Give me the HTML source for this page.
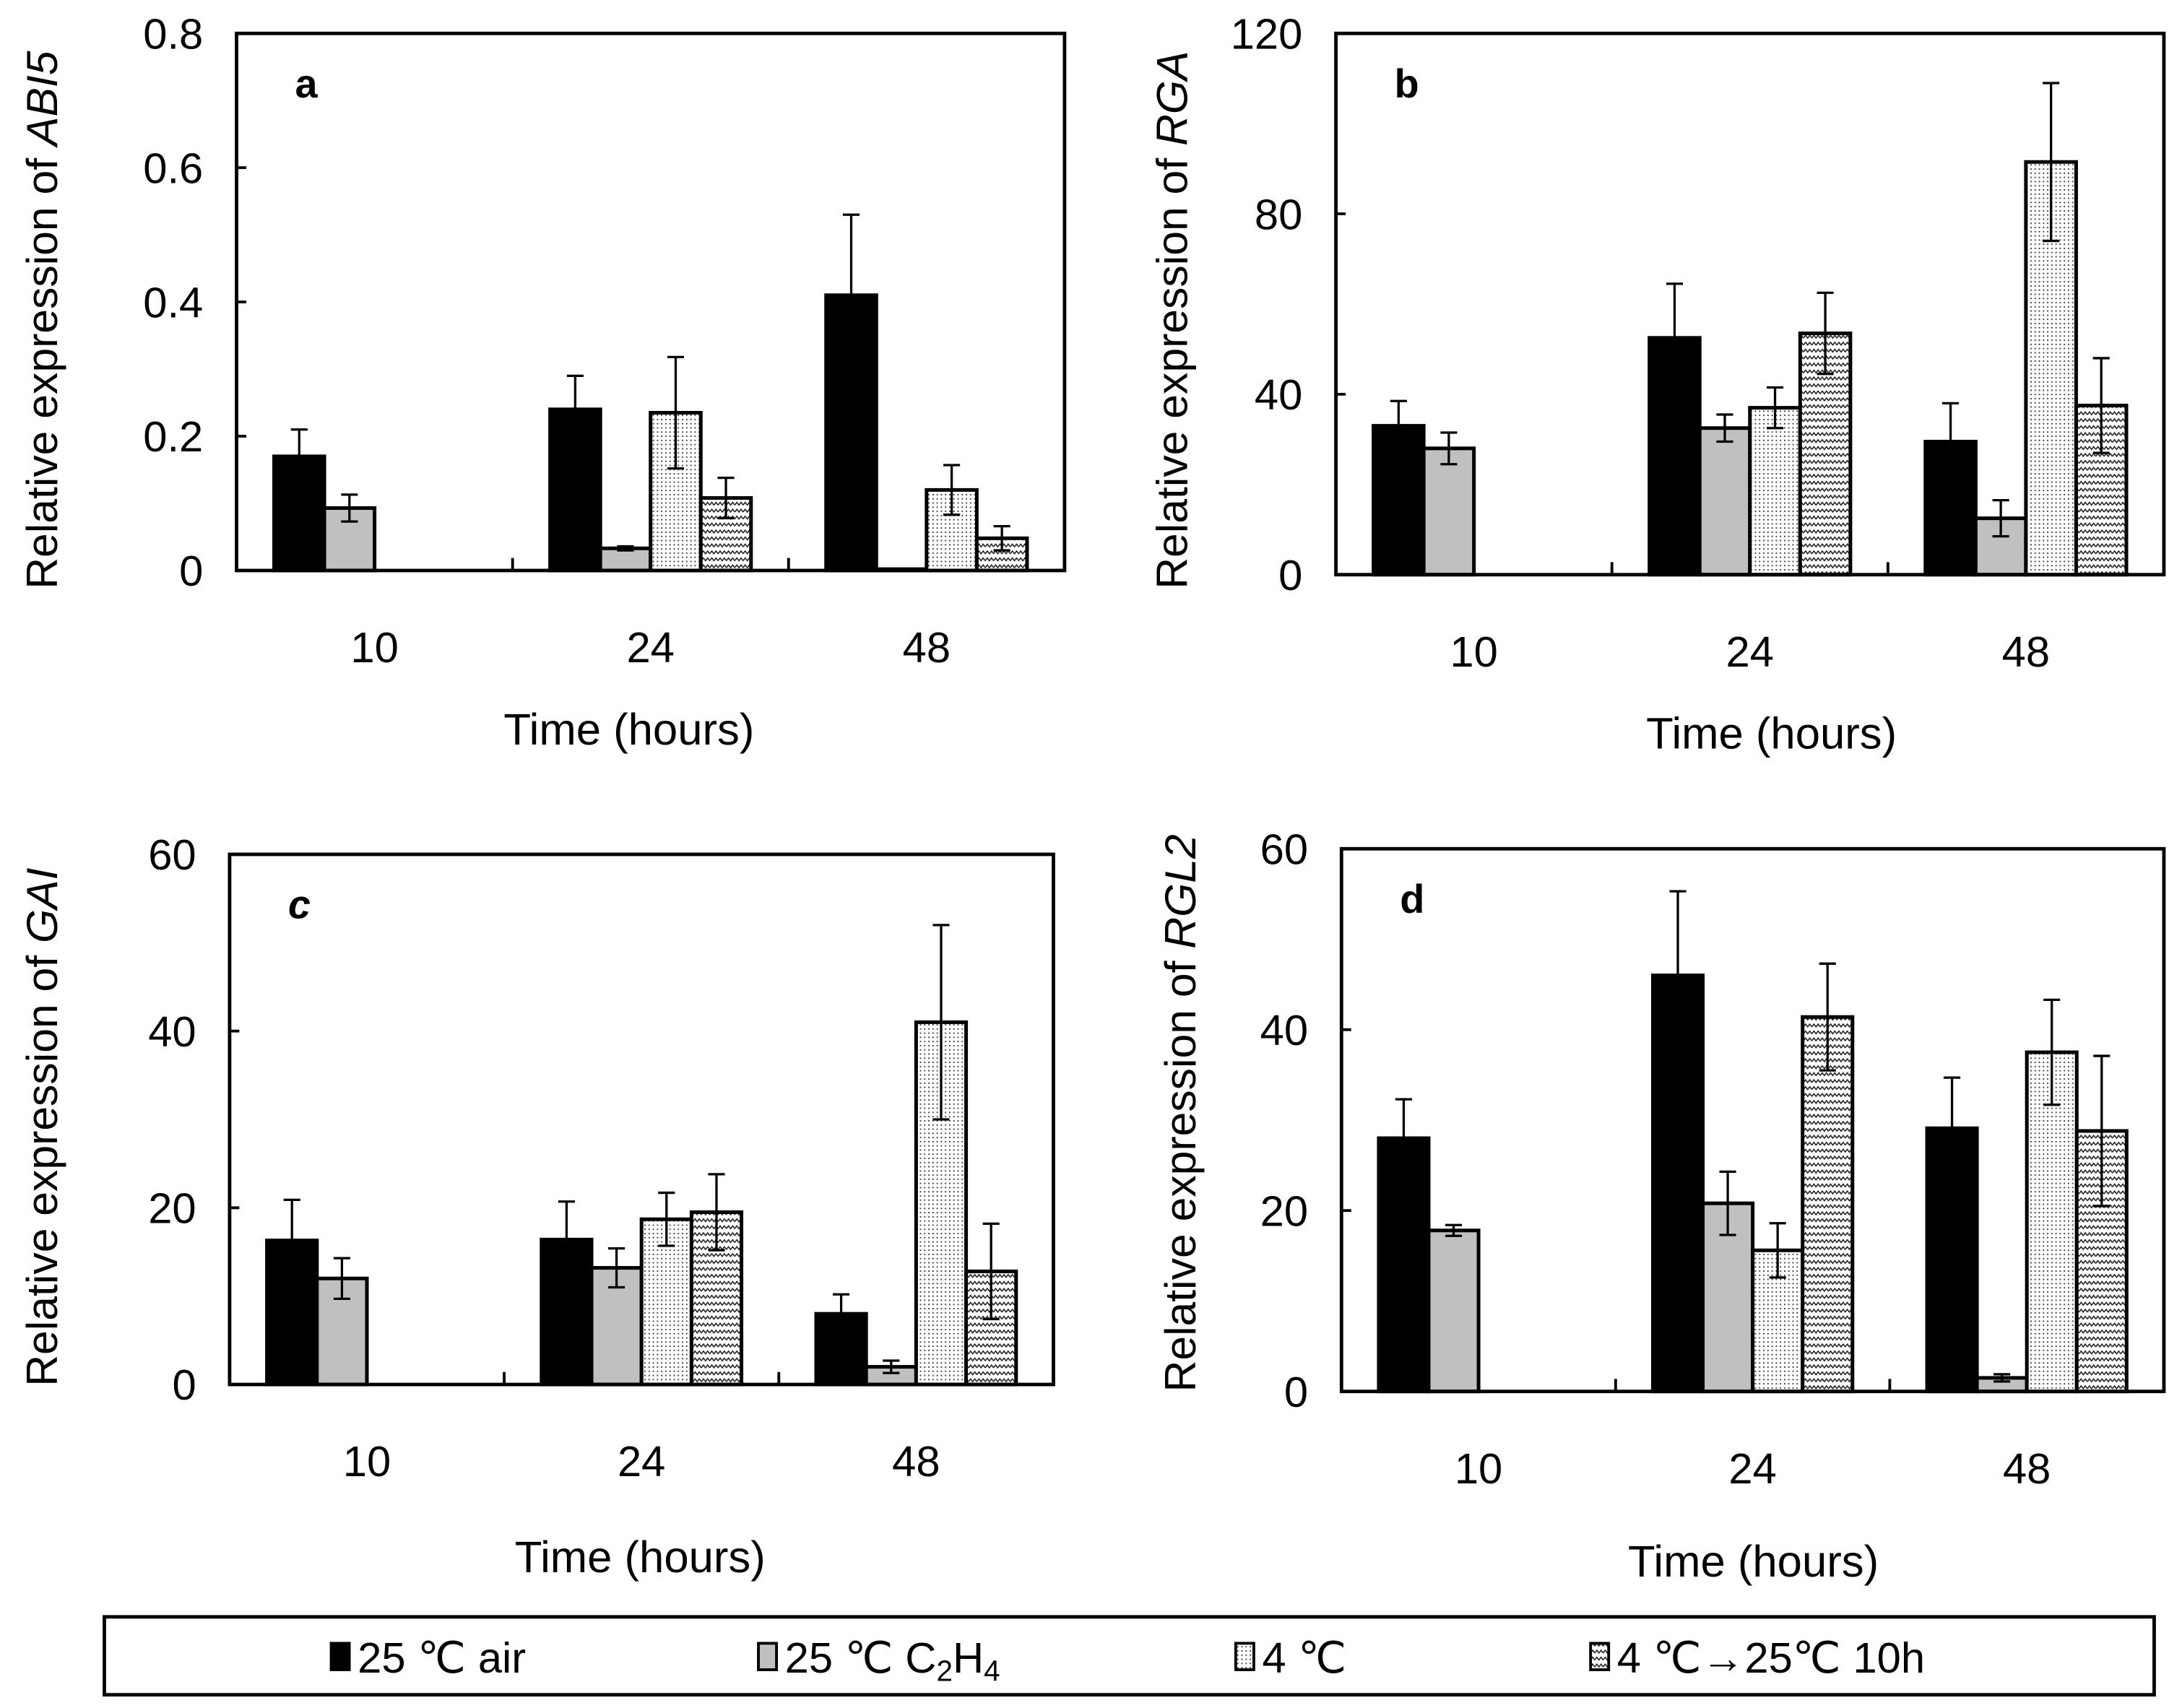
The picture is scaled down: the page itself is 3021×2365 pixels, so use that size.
<!DOCTYPE html>
<html><head><meta charset="utf-8"><style>html,body{margin:0;padding:0;background:#fff}svg{display:block}text{font-family:"Liberation Sans",Arial,sans-serif;fill:#000}</style></head>
<body>
<svg id="fig" width="3021" height="2365" viewBox="0 0 1568 1227.5" xmlns="http://www.w3.org/2000/svg">
<defs>
<pattern id="dots" width="3" height="3" patternUnits="userSpaceOnUse"><rect width="3" height="3" fill="#fff"/><rect x="1" y="1" width="1" height="1" fill="#444"/></pattern>
<pattern id="wave" width="6" height="5" patternUnits="userSpaceOnUse"><rect width="6" height="5" fill="#fff"/><path d="M0,3 L1.5,1 L3,3 L4.5,1 L6,3" stroke="#222" stroke-width="0.8" fill="none"/></pattern>
</defs>
<g id="root"></g>
</svg>
<script>
const categories = ["10","24","48"];
const seriesNames = ["25 ℃ air","25 ℃ C2H4","4 ℃","4 ℃→25℃ 10h"];
const abi5Vals = [[0.17,0.24,0.41],[0.093,0.033,0.002],[null,0.235,0.12],[null,0.108,0.048]];
const abi5Err  = [[0.04,0.05,0.12],[0.02,0.003,0],[null,0.083,0.037],[null,0.03,0.018]];
const rgaVals = [[33,52.5,29.5],[28,32.5,12.5],[null,37,91.5],[null,53.5,37.5]];
const rgaErr  = [[5.5,12,8.5],[3.5,3,4],[null,4.5,17.5],[null,9,10.5]];
const gaiVals = [[16.3,16.4,8],[12,13.2,2],[null,18.7,41],[null,19.5,12.8]];
const gaiErr  = [[4.6,4.3,2.2],[2.3,2.2,0.7],[null,3,11],[null,4.3,5.4]];
const rgl2Vals = [[28,46,29.1],[17.8,20.8,1.5],[null,15.6,37.5],[null,41.4,28.8]];
const rgl2Err  = [[4.3,9.3,5.6],[0.6,3.5,0.4],[null,3,5.8],[null,5.9,8.3]];
const abi5Ticks = [0,0.2,0.4,0.6,0.8];
const rgaTicks = [0,40,80,120];
const gaiTicks = [0,20,40,60];
const rgl2Ticks = [0,20,40,60];

const NS="http://www.w3.org/2000/svg";
const root=document.getElementById('root');
function mk(tag,attrs,parent){const e=document.createElementNS(NS,tag);for(const k in attrs)e.setAttribute(k,attrs[k]);(parent||root).appendChild(e);return e;}
const fills=["#000","#c0c0c0","url(#dots)","url(#wave)"];

function panel(o){
  const g=mk('g',{});
  
  
  const max=o.ticks[o.ticks.length-1];
  const y=v=>o.y0-(v/max)*(o.y0-o.top);
  const cw=(o.right-o.left)/categories.length;
  const bw=cw*0.182;
  for(let s=0;s<4;s++){
    for(let c=0;c<categories.length;c++){
      const v=o.vals[s][c]; if(v===null) continue;
      const cx=o.left+cw*(c+0.5);
      const x=cx-2*bw+s*bw;
      const yt=y(v);
      const r=mk('rect',{x:x,y:yt,width:bw,height:o.y0-yt,fill:fills[s],stroke:'#000','stroke-width':2.6},g);
      
      
      const e=o.err[s][c];
      if(e){const ex=x+bw/2;const y1=y(v+e),y2=y(Math.max(0,v-e));
        const eb=mk('path',{d:`M${ex},${y1}V${y2}M${ex-6},${y1}H${ex+6}M${ex-6},${y2}H${ex+6}`,stroke:'#000','stroke-width':1.7,fill:'none'},g);
        
        
      }
    }
  }
  const bx=mk('rect',{x:o.left,y:o.top,width:o.right-o.left,height:o.y0-o.top,fill:'none',stroke:'#000','stroke-width':2.5},g);
  
  
  o.ticks.forEach(t=>{const yy=y(t);
    mk('line',{x1:o.left,x2:o.left+7,y1:yy,y2:yy,stroke:'#000','stroke-width':2},g);
    const tl=mk('text',{x:o.left-24,y:yy+11,'text-anchor':'end','font-size':31},g);tl.textContent=t;
    
    
  });
  for(let c=1;c<categories.length;c++){const xx=o.left+cw*c;mk('line',{x1:xx,x2:xx,y1:o.y0,y2:o.y0-9,stroke:'#000','stroke-width':2},g);}
  categories.forEach((cat,c)=>{const t=mk('text',{x:o.left+cw*(c+0.5),y:o.y0+66,'text-anchor':'middle','font-size':31},g);t.textContent=cat;
    
    });
  const xt=mk('text',{x:o.xtx,y:o.xty,'text-anchor':'middle','font-size':32},g);xt.textContent='Time (hours)';
  
  
  const yt=mk('text',{transform:`translate(${o.ytx},${o.yty}) rotate(-90)`,'text-anchor':'middle','font-size':31.5},g);
  
  
  yt.appendChild(document.createTextNode('Relative expression of '));
  const it=mk('tspan',{'font-style':'italic'},yt);it.textContent=o.gene;
  const lt=mk('text',{x:o.left+42,y:o.top+46,'font-size':29,'font-weight':'bold','font-style':o.letter==='c'?'italic':'normal'},g);lt.textContent=o.letter;
  
  
}
panel({letter:'a',gene:'ABI5',vals:abi5Vals,err:abi5Err,ticks:abi5Ticks,left:170,right:765,top:24,y0:410,xtx:452,xty:535,ytx:41,yty:230});
panel({letter:'b',gene:'RGA',vals:rgaVals,err:rgaErr,ticks:rgaTicks,left:960,right:1555,top:24,y0:413,xtx:1273,xty:538,ytx:853,yty:230});
panel({letter:'c',gene:'GAI',vals:gaiVals,err:gaiErr,ticks:gaiTicks,left:165,right:757,top:614,y0:995,xtx:460,xty:1130,ytx:41,yty:810});
panel({letter:'d',gene:'RGL2',vals:rgl2Vals,err:rgl2Err,ticks:rgl2Ticks,left:964,right:1555,top:610,y0:1000,xtx:1260,xty:1133,ytx:859,yty:800});

const lg=mk('g',{});


mk('rect',{x:75,y:1162,width:1473,height:56,fill:'#fff',stroke:'#000','stroke-width':2.5},lg);
const lx=[238,545,888,1143];
seriesNames.forEach((n,i)=>{
  const sw=mk('rect',{x:lx[i],y:1181,width:13,height:19,fill:fills[i],stroke:'#000','stroke-width':2},lg);
  
  
  const t=mk('text',{x:lx[i]+19,y:1202,'font-size':31},lg);
  
  
  if(i===1){t.appendChild(document.createTextNode('25 ℃ C'));const s1=mk('tspan',{'font-size':21,dy:6},t);s1.textContent='2';const s2=mk('tspan',{dy:-6},t);s2.textContent='H';const s3=mk('tspan',{'font-size':21,dy:6},t);s3.textContent='4';}
  else t.textContent=n;
});
</script>
</body></html>
